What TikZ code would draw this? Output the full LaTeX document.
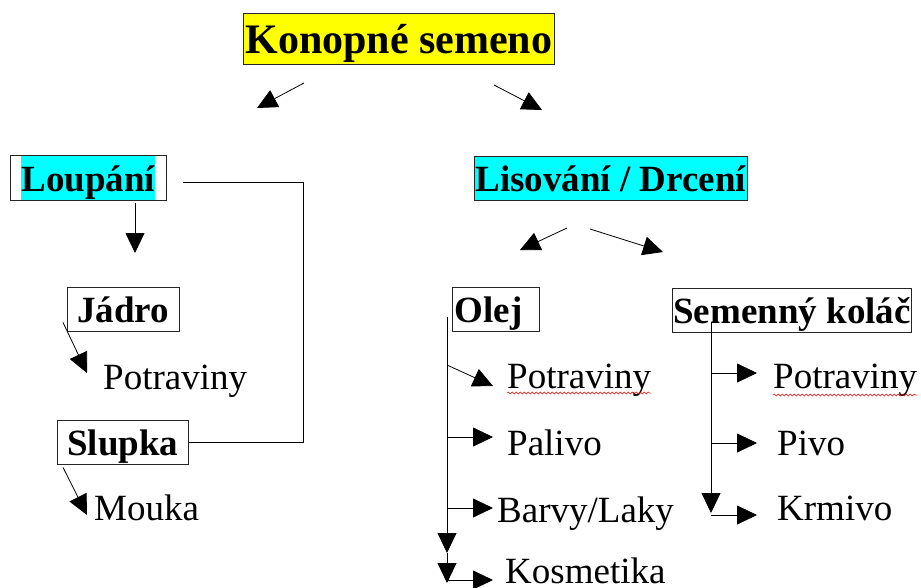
\documentclass[tikz,border=0pt]{standalone}
\usepackage{fontspec}
\setmainfont{Liberation Serif}
\usetikzlibrary{arrows.meta, fit, decorations.pathmorphing}
\definecolor{hlcyan}{RGB}{0,255,255}
\definecolor{hlyellow}{RGB}{255,255,0}

\begin{document}
\begin{tikzpicture}[x=1pt, y=-1pt,
    itemnode/.style={font=\fontsize{37}{44}\selectfont, inner sep=0,
      anchor=base west},
    boxnode/.style={draw=black!85, line width=0.8,
      font=\bfseries\fontsize{37}{44}\selectfont, text height=31,
      text depth=5, inner ysep=4, anchor=base west},
    tri/.style={-{Triangle[length=20pt, width=19pt]}, line width=0.8},
    plain/.style={line width=0.8},
    squiggle/.style={red, line width=0.5, decorate,
      decoration={snake, amplitude=1pt, segment length=4pt}}]
    \useasboundingbox[fill=white] (0,0) rectangle (921,587);
    % boxes
    \node[boxnode, fill=hlyellow, font=\bfseries\fontsize{42}{50}\selectfont,
      text height=36, text depth=7, inner xsep=2] (seed) at (243,53) {Konopné semeno};
    \node[boxnode, draw=none, fill=hlcyan, inner xsep=0] (peeltext) at (21,191) {Loupání};
    \node[draw=black!85, line width=0.8, fit=(peeltext), inner xsep=11,
      inner ysep=0] (peel) {};
    \node[boxnode, fill=hlcyan, inner xsep=1] (press) at (474,191) {Lisování / Drcení};
    \node[boxnode, inner xsep=10] (kernel) at (67,322) {Jádro};
    \node[boxnode, inner xsep=10] (hull) at (57,455) {Slupka};
    \node[boxnode, text width=82, align=left, inner xsep=2.5] (oil) at (452,322) {Olej};
    \node[boxnode, inner xsep=1] (cake) at (672,323) {Semenný koláč};
    % products
    \node[itemnode] (kernelfood) at (103,389) {Potraviny};
    \node[itemnode] (flour) at (94,520) {Mouka};
    \node[itemnode] (oilfood) at (507,388) {Potraviny};
    \node[itemnode] (fuel) at (507,455) {Palivo};
    \node[itemnode] (paint) at (497,522) {Barvy/Laky};
    \node[itemnode] (cosmetics) at (505,583) {Kosmetika};
    \node[itemnode] (cakefood) at (773,388) {Potraviny};
    \node[itemnode] (beer) at (777,455) {Pivo};
    \node[itemnode] (feed) at (777,520) {Krmivo};
    % connector points
    \coordinate (seedl) at (304,83);
    \coordinate (seedltip) at (257,108);
    \coordinate (seedr) at (494,85);
    \coordinate (seedrtip) at (542,110);
    \coordinate (peeldown) at (135,203);
    \coordinate (peeldowntip) at (135,253);
    \coordinate (peelout) at (183,182);
    \coordinate (bend) at (303,182);
    \coordinate (kerneltip) at (87,373);
    \coordinate (hulltip) at (87,515);
    \coordinate (pressl) at (567,228);
    \coordinate (pressltip) at (520,250);
    \coordinate (pressr) at (590,229);
    \coordinate (pressrtip) at (663,252);
    \coordinate (oiltop) at (447,317);
    \coordinate (oilmid) at (447,553);
    \coordinate (oilend) at (447,583);
    \coordinate (oilj1) at (447,365);
    \coordinate (oilj1tip) at (493,386);
    \coordinate (oilj2) at (447,437);
    \coordinate (oilj3) at (447,508);
    \coordinate (oilj4) at (447,580);
    \coordinate (caketop) at (711,323);
    \coordinate (cakeend) at (711,513);
    \coordinate (cakej1) at (711,373);
    \coordinate (cakej2) at (711,443);
    \coordinate (cakej3) at (711,515);
    % connectors
    \draw[tri] (seedl) -- (seedltip);
    \draw[tri] (seedr) -- (seedrtip);
    \draw[tri] (peeldown) -- (peeldowntip);
    \draw[plain] (peelout) -- (bend) |- (hull.east);
    \draw[tri] ([xshift=-4pt, yshift=9pt]kernel.south west) -- (kerneltip);
    \draw[tri] ([xshift=6pt, yshift=-3pt]hull.south west) -- (hulltip);
    \draw[tri] (pressl) -- (pressltip);
    \draw[tri] (pressr) -- (pressrtip);
    \draw[tri] (oiltop) -- (oilmid);
    \draw[tri] (oilmid) -- (oilend);
    \draw[tri] (oilj1) -- (oilj1tip);
    \draw[tri] (oilj2) -- ([xshift=-14pt]oilj2 -| fuel.west);
    \draw[tri] (oilj3) -- ([xshift=-4pt]oilj3 -| paint.west);
    \draw[tri] (oilj4) -- ([xshift=-12pt]oilj4 -| cosmetics.west);
    \draw[tri] (caketop) -- (cakeend);
    \draw[tri] (cakej1) -- ([xshift=-16pt]cakej1 -| cakefood.west);
    \draw[tri] (cakej2) -- ([xshift=-20pt]cakej2 -| beer.west);
    \draw[tri] (cakej3) -- ([xshift=-20pt]cakej3 -| feed.west);
    % spell-check underlines
    \draw[squiggle] ([yshift=-5pt]oilfood.base west) -- ([yshift=-5pt]oilfood.base east);
    \draw[squiggle] ([yshift=-7pt]cakefood.base west) -- ([yshift=-7pt]cakefood.base east);
  \end{tikzpicture}
\end{document}
